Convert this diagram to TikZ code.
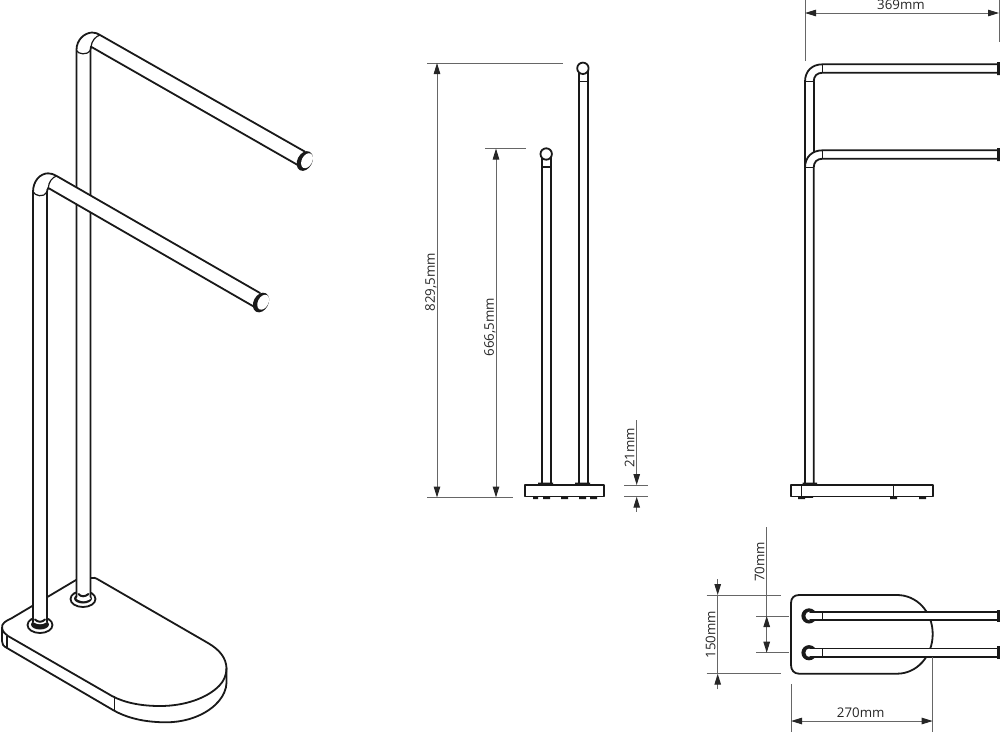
\documentclass[tikz,border=0pt]{standalone}
\usepackage{fontspec}
\setmainfont{Open Sans}
\usetikzlibrary{arrows.meta}
\tikzset{
  obj/.style={draw=black!90,line width=1.8pt,line join=round,line cap=round},
  thin obj/.style={draw=black!90,line width=1.2pt},
  tube/.style={obj,fill=white},
  dim/.style={draw=black!60,line width=1pt},
  dimarrow/.style={dim,{Triangle[length=11pt,width=6.5pt,black!85]}-{Triangle[length=11pt,width=6.5pt,black!85]}},
  tipA/.style={dim,-{Triangle[length=11pt,width=6.5pt,black!85]}},
  lab/.style={font=\fontsize{13.3}{15}\selectfont,text=black!85,inner sep=0pt},
  labv/.style={lab,rotate=90},
  foot/.style={fill=black!90,draw=none}
}
\begin{document}
\begin{tikzpicture}[x=1pt,y=-1pt]
\useasboundingbox (0,0) rectangle (1000,732);
% ---- perspective view: base
\path[obj,fill=white] (2,629) .. controls (1,623) and (6,621) .. (12,618) -- (76,580)
  -- (90,578) .. controls (93,577) and (96,578) .. (99,580) -- (208,643)
  .. controls (220,650) and (226,658) .. (226.5,668) -- (226.5,683)
  .. controls (226,696) and (215,708) .. (200,715) .. controls (185,722) and (170,723) .. (157,722)
  .. controls (140,721) and (125,717) .. (113,710) -- (7,648) .. controls (3,646) and (2,644) .. (2,641) -- cycle;
\draw[obj] (2,628) .. controls (3,632) and (5,634) .. (8,636) -- (112,696)
  .. controls (125,703) and (142,706) .. (160,706) .. controls (185,706) and (207,698) .. (219,686)
  .. controls (224,681) and (226.5,675) .. (226.5,668);
\draw[thin obj] (7,635.5) -- (7,648) (114.5,696) -- (114.5,710);
% rings
\draw[obj,fill=white] (83,599) ellipse [x radius=12.5,y radius=8];
\fill[black!90] (83,598.5) ellipse [x radius=9,y radius=5];
\draw[obj,fill=white] (40,625) ellipse [x radius=12.5,y radius=8];
\fill[black!90] (40,624.5) ellipse [x radius=9,y radius=5];
% rear rack
\path[fill=white] (76.5,599) -- (76.5,50) .. controls (76.5,40) and (84,33) .. (92,32.5)
  .. controls (95,32.5) and (98,33.5) .. (100,35) -- (305,151.7) -- (297.7,165) -- (91,46.7) -- (90.5,50) -- (90.5,599)
  .. controls (85,602) and (82,602) .. (76.5,599);
\draw[obj] (76.5,597) -- (76.5,50) .. controls (76.5,40) and (84,33) .. (92,32.5) .. controls (95,32.5) and (98,33.5) .. (100,35) -- (305,151.7);
\draw[obj] (90.5,597) -- (90.5,50) .. controls (90.5,48.5) and (90.5,47.5) .. (91,46.7) -- (297.7,165);
\draw[thin obj] (76.5,50.5) .. controls (78,54) and (87,56) .. (90.5,50);
\draw[thin obj] (100,35) .. controls (96,36) and (91.5,41) .. (91,46.7);
\draw[obj,fill=black!90] (304.8,161) ellipse [x radius=6.5,y radius=9.5,rotate=-28];
\draw[draw=none,fill=white] (307,160.7) ellipse [x radius=5.2,y radius=8,rotate=-28];
% front rack
\path[fill=white] (33,622) -- (33,192) .. controls (33,181) and (40,173.5) .. (48,173.3)
  .. controls (51,173.3) and (54,174.3) .. (56.7,176) -- (260,293) -- (254,306.7) -- (48.3,188) -- (47,192) -- (47,622)
  .. controls (42,625) and (38,625) .. (33,622);
\draw[obj] (33,622) -- (33,192) .. controls (33,181) and (40,173.5) .. (48,173.3) .. controls (51,173.3) and (54,174.3) .. (56.7,176) -- (260,293);
\draw[obj] (47,622) -- (47,192) .. controls (47,190.5) and (47.5,189) .. (48.3,188) -- (254,306.7);
\draw[thin obj] (33,191.5) .. controls (34.5,196) and (44,198) .. (47,192);
\draw[thin obj] (56.7,176) .. controls (52.5,177) and (48.5,182) .. (48.3,188);
\draw[obj,fill=black!90] (261,302.5) ellipse [x radius=6.5,y radius=9.5,rotate=-28];
\draw[draw=none,fill=white] (263.2,302.2) ellipse [x radius=5.2,y radius=8,rotate=-28];
\draw[line width=2pt,line cap=round,black!90] (35,619.5) .. controls (38,622.5) and (42,622.5) .. (45,619.5);
\draw[line width=2pt,line cap=round,black!90] (78.5,594) .. controls (81,597) and (85,597) .. (88.5,594);
% ---- front elevation
\draw[tube] (579,70) rectangle (587.7,484);
\draw[tube] (542.3,156) rectangle (550.7,484);
\draw[thin obj] (579,81.7) -- (587.7,81.7) (542.3,167) -- (550.7,167);
\draw[obj,fill=white] (582.9,68.3) circle [radius=5.7];
\draw[obj,fill=white] (546.2,154) circle [radius=5.7];
\draw[obj,fill=white,line width=1.5pt] (525,485) rectangle (604,496.7);
\fill[foot] (538,482.5) rectangle (553,485) (575,482.5) rectangle (590,485);
\fill[foot] (533,496.7) rectangle (538,499.2) (543,496.7) rectangle (550,499.2) (561,496.7) rectangle (568,499.2)
  (579,496.7) rectangle (586,499.2) (590,496.7) rectangle (597,499.2);
% ---- side elevation
\draw[obj] (813.7,81.7) -- (813.7,152);
\draw[obj] (805,484) -- (805,81.7) .. controls (805,71) and (812,64.3) .. (822.7,64.3) -- (997.5,64.3);
\draw[obj] (813.7,81.7) .. controls (813.7,76) and (817,72.7) .. (822.7,72.7) -- (997.5,72.7);
\draw[thin obj] (805,81.7) -- (813.7,81.7) (822.7,64.3) -- (822.7,72.7);
\draw[obj] (805,167.7) .. controls (805,157) and (812,150.3) .. (822.7,150.3) -- (997.5,150.3);
\draw[obj] (813.7,484) -- (813.7,167.7) .. controls (813.7,162) and (817,158.7) .. (822.7,158.7) -- (997.5,158.7);
\draw[thin obj] (805,167.7) -- (813.7,167.7) (822.7,150.3) -- (822.7,158.7);
\fill[foot] (997,62) rectangle (1000,75) (997,148) rectangle (1000,161);
\draw[obj,fill=white,line width=1.5pt] (791,485) rectangle (933,496.3);
\draw[thin obj] (801.3,485) -- (801.3,496.3) (893.7,485) -- (893.7,496.3);
\fill[foot] (802.7,482.7) rectangle (817,485) (805,483) rectangle (813.5,485);
\fill[foot] (798,496.3) rectangle (805,499) (805,496.3) rectangle (813,497.8) (890,496.3) rectangle (897,499) (919,496.3) rectangle (926,499);
% ---- plan
\draw[obj,fill=white] (799,595) -- (897,595) .. controls (917,595) and (932.7,612) .. (932.7,634)
  .. controls (932.7,656) and (917,673.7) .. (897,673.7) -- (799,673.7)
  .. controls (794,673.7) and (791,670) .. (791,665) -- (791,603) .. controls (791,598) and (794,595) .. (799,595) -- cycle;
\foreach \yy/\nm in {615.9/a,652.7/b}{
  \fill[black!90] (809,\yy) circle [radius=7.6];
  \fill[white] (809.8,\yy) circle [radius=4.4];
  \fill[white] (811,\yy-3.5) rectangle (996.5,\yy+3.5);
  \draw[obj,line width=1.6pt] (1000,\yy-4.2) -- (810,\yy-4.2) (1000,\yy+4.2) -- (810,\yy+4.2);
  \draw[thin obj] (822.3,\yy-4.2) -- (822.3,\yy+4.2);
  \fill[foot] (997,\yy-6.3) rectangle (1000,\yy+6.3);
}
% ---- dimensions
\coordinate (A1) at (427,63); \coordinate (A2) at (563,63);
\coordinate (B1) at (427,497.5); \coordinate (B2) at (513,497.5);
\draw[dim] (A1) -- (A2) (B1) -- (B2);
\draw[dimarrow] (437,63) -- (437,497.5);
\node[labv] (l829) at (431,282) {829,5mm};
\coordinate (C1) at (485,148.5); \coordinate (C2) at (525.5,148.5);
\draw[dim] (C1) -- (C2);
\draw[dimarrow] (496,148.5) -- (496,497.5);
\node[labv] (l666) at (490,327) {666,5mm};
\draw[dim] (624,485) -- (648,485) (624,496.7) -- (648,496.7);
\coordinate (D1) at (636.7,420); \coordinate (D2) at (636.7,485); \coordinate (D3) at (636.7,511.7); \coordinate (D4) at (636.7,496.7);
\draw[tipA] (D1) -- (D2);
\draw[tipA] (D3) -- (D4);
\node[labv] (l21) at (629.5,448) {21mm};
\draw[dim] (805,0) -- (805,61) (999,0) -- (999,42);
\draw[dimarrow] (805,13) -- (999,13);
\node[lab] (l369) at (901,5) {369mm};
\draw[dim] (756,616) -- (789,616) (756,652.7) -- (789,652.7) (706.7,595) -- (780.7,595) (706.7,673.7) -- (780.7,673.7);
\draw[dim] (766.7,527) -- (766.7,652.7);
\draw[dimarrow] (766.7,616) -- (766.7,652.7);
\node[labv] (l70) at (759.5,562) {70mm};
\coordinate (E1) at (717.7,579.3); \coordinate (E2) at (717.7,595); \coordinate (E3) at (717.7,689.3); \coordinate (E4) at (717.7,673.7);
\draw[dim] (E2) -- (E4);
\draw[tipA] (E1) -- (E2);
\draw[tipA] (E3) -- (E4);
\node[labv] (l150) at (710.5,634.7) {150mm};
\draw[dim] (791,684) -- (791,732) (932.7,657) -- (932.7,732);
\draw[dimarrow] (791,721) -- (932.7,721);
\node[lab] (l270) at (860.7,713) {270mm};
\end{tikzpicture}
\end{document}
